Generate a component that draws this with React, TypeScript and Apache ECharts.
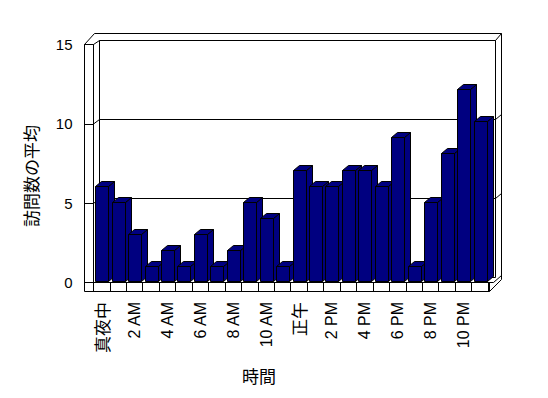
import React, { useEffect, useRef } from "react";
import * as echarts from "echarts";

const hours = [
  "真夜中", "1 AM", "2 AM", "3 AM", "4 AM", "5 AM", "6 AM", "7 AM", "8 AM", "9 AM", "10 AM", "11 AM",
  "正午", "1 PM", "2 PM", "3 PM", "4 PM", "5 PM", "6 PM", "7 PM", "8 PM", "9 PM", "10 PM", "11 PM",
];
const visits = [6, 5, 3, 1, 2, 1, 3, 1, 2, 5, 4, 1, 7, 6, 6, 7, 7, 6, 9, 1, 5, 8, 12, 10];
const yMin = 0;
const yMax = 15;
const yStep = 5;
const yTitle = "訪問数の平均";
const xTitle = "時間";

const BAR = "#000080";
const LINE = "#000";

function seg(x1: number, y1: number, x2: number, y2: number) {
  return {
    type: "line",
    z: 0,
    shape: { x1, y1, x2, y2 },
    style: { stroke: LINE, lineWidth: 1 },
    silent: true,
  };
}

export default function App() {
  const ref = useRef<HTMLDivElement>(null);
  useEffect(() => {
    if (!ref.current) return;
    const chart = echarts.init(ref.current, null, { renderer: "svg" });
    const latin = "Liberation Sans, Arial, sans-serif";
    const cjk = "Noto Sans CJK JP, sans-serif";
    const style = { fill: BAR, stroke: LINE, lineWidth: 1 };
    chart.setOption({
      animation: false,
      backgroundColor: "#fff",
      grid: [
        { left: 93.3, top: 41, width: 394.8, height: 241 },
        { left: 99.5, top: 40.5, width: 396, height: 237 },
        { left: 84.5, top: 44.5, width: 9, height: 238 },
      ],
      xAxis: [
        {
          type: "category",
          gridIndex: 0,
          data: hours,
          axisLine: { show: false },
          axisTick: { show: true, interval: 0, length: 9, inside: false, lineStyle: { color: LINE } },
          axisLabel: {
            interval: 1,
            rotate: 90,
            margin: 20,
            color: "#000",
            fontSize: 16,
            fontFamily: latin,
            formatter: (v: string) => (/[^\x00-\x7F]/.test(v) ? `{c|${v}}` : v),
            rich: { c: { fontSize: 17, fontFamily: cjk, color: "#000" } },
          },
          splitLine: { show: false },
        },
        { type: "value", gridIndex: 1, show: false, min: 0, max: 1 },
        { type: "value", gridIndex: 2, show: false, min: 0, max: 1 },
      ],
      yAxis: [
        { type: "value", gridIndex: 0, min: yMin, max: yMax, interval: yStep, show: false },
        {
          type: "value",
          gridIndex: 1,
          min: yMin,
          max: yMax,
          interval: yStep,
          axisLine: { show: false },
          axisTick: { show: false },
          axisLabel: { show: false },
          splitLine: { show: true, lineStyle: { color: LINE, width: 1 } },
        },
        {
          type: "value",
          gridIndex: 2,
          min: yMin,
          max: yMax,
          interval: yStep,
          axisLine: { show: false },
          axisTick: { show: true, inside: true, length: 9, lineStyle: { color: LINE } },
          axisLabel: { show: true, margin: 12, color: "#000", fontSize: 15, fontFamily: latin },
          splitLine: { show: false },
        },
      ],
      series: [
        {
          type: "custom",
          xAxisIndex: 0,
          yAxisIndex: 0,
          z: 5,
          data: visits.map((v, i) => [i, v]),
          encode: { x: 0, y: 1 },
          renderItem: (params: any, api: any) => {
            const i = api.value(0);
            const v = api.value(1);
            const base = api.coord([i, 0]);
            const top = api.coord([i, v]);
            const bw = api.size([1, 0])[0];
            const left = Math.floor(base[0] - bw / 2 + bw * 0.145) + 0.5;
            const w = Math.round(bw * 0.77);
            const right = left + w;
            const yb = Math.round(base[1]) - 0.5;
            const yt = Math.round(top[1]) + 0.5;
            const dx = 6;
            const dy = 5;
            return {
              type: "group",
              children: [
                {
                  type: "polygon",
                  shape: { points: [[right, yt], [right + dx, yt - dy], [right + dx, yb - dy], [right, yb]] },
                  style,
                },
                {
                  type: "polygon",
                  shape: { points: [[left, yt], [left + dx, yt - dy], [right + dx, yt - dy], [right, yt]] },
                  style,
                },
                { type: "rect", shape: { x: left, y: yt, width: w, height: yb - yt }, style },
              ],
            };
          },
        },
      ],
      graphic: [
        seg(84.5, 44.5, 84.5, 291.5),
        seg(93.5, 44.5, 93.5, 282.5),
        seg(84.5, 44.5, 93.5, 44.5),
        seg(84.5, 44.5, 94.5, 33.5),
        seg(94.5, 33.5, 501.5, 33.5),
        seg(93.5, 44.5, 99.5, 40.5),
        seg(99.5, 40.5, 495.5, 40.5),
        seg(99.5, 40.5, 99.5, 277.5),
        seg(495.5, 40.5, 495.5, 277.5),
        seg(495.5, 40.5, 501.5, 33.5),
        seg(501.5, 33.5, 501.5, 279.5),
        seg(93.5, 124, 99.5, 119.5),
        seg(93.5, 203.5, 99.5, 198.5),
        seg(495.5, 119.5, 501.5, 114.5),
        seg(495.5, 198.5, 501.5, 193.5),
        seg(93.5, 282.5, 493.5, 282.5),
        seg(84.5, 291.5, 489.5, 291.5),
        seg(489.5, 282.5, 489.5, 291.5),
        seg(489.5, 291.5, 501.5, 279.5),
        seg(493.5, 282.5, 501.5, 275.5),
        {
          type: "text",
          x: 30,
          y: 176,
          rotation: Math.PI / 2,
          style: {
            text: yTitle,
            align: "center",
            verticalAlign: "middle",
            fontSize: 17,
            fontFamily: cjk,
            fill: "#000",
          },
        },
        {
          type: "text",
          x: 259,
          y: 375,
          style: {
            text: xTitle,
            align: "center",
            verticalAlign: "middle",
            fontSize: 17,
            fontFamily: cjk,
            fill: "#000",
          },
        },
      ],
    });
    return () => chart.dispose();
  }, []);
  return (
    <div
      ref={ref}
      style={{ position: "absolute", left: 0, top: 0, width: 548, height: 398, background: "#fff" }}
    />
  );
}
